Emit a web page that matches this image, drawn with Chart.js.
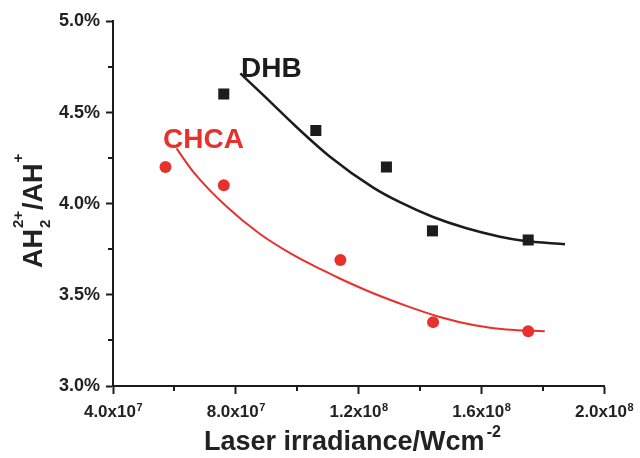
<!DOCTYPE html>
<html><head><meta charset="utf-8">
<script src="https://cdn.jsdelivr.net/npm/chart.js@4/dist/chart.umd.min.js"></script>
<style>html,body{margin:0;padding:0;background:#fff}canvas{display:block}</style>
</head><body><canvas id="c" width="640" height="458"></canvas>
<script>
// ---- data ----
const dhbX = [7.61e7, 1.061e8, 1.291e8, 1.441e8, 1.753e8];
const dhbY = [4.60, 4.40, 4.20, 3.85, 3.80];
const chcaX = [5.71e7, 7.61e7, 1.141e8, 1.443e8, 1.753e8];
const chcaY = [4.20, 4.10, 3.69, 3.35, 3.30];
const dhbFitX = [8.15e7, 8.89e7, 9.98e7, 1.106e8, 1.248e8, 1.335e8, 1.443e8, 1.552e8, 1.661e8, 1.737e8, 1.873e8];
const dhbFitY = [4.713, 4.595, 4.419, 4.258, 4.087, 4.007, 3.926, 3.864, 3.818, 3.796, 3.777];
const chcaFitX = [6.07e7, 6.61e7, 7.70e7, 8.78e7, 9.87e7, 1.085e8, 1.139e8, 1.248e8, 1.356e8, 1.465e8, 1.574e8, 1.682e8, 1.807e8];
const chcaFitY = [4.302, 4.175, 3.983, 3.834, 3.718, 3.633, 3.589, 3.508, 3.439, 3.378, 3.334, 3.309, 3.300];
const xTicks = [4e7, 8e7, 1.2e8, 1.6e8, 2e8];
const xTickMant = ['4.0x10', '8.0x10', '1.2x10', '1.6x10', '2.0x10'];
const xTickExp = ['7', '7', '8', '8', '8'];
const xMinor = [6e7, 1e8, 1.4e8, 1.8e8];
const yTicks = [3.0, 3.5, 4.0, 4.5, 5.0];
const yTickLabels = ['3.0%', '3.5%', '4.0%', '4.5%', '5.0%'];
const yMinor = [3.25, 3.75, 4.25, 4.75];
const seriesNames = ['DHB', 'CHCA'];

const BLACK = '#1c1c1c', RED = '#e8302d', TXT = '#222222';
const FF = '"Liberation Sans", Arial, Helvetica, sans-serif';
const pts = (xs, ys) => xs.map((v, i) => ({x: v, y: ys[i]}));

const deco = {
  id: 'deco',
  afterDraw(chart) {
    const {ctx, chartArea: ca} = chart;
    const x = chart.scales.x, y = chart.scales.y;
    ctx.save();
    // minor ticks
    ctx.strokeStyle = BLACK; ctx.lineWidth = 2;
    xMinor.forEach(v => { const p = Math.round(x.getPixelForValue(v)); ctx.beginPath(); ctx.moveTo(p, ca.bottom); ctx.lineTo(p, ca.bottom + 5); ctx.stroke(); });
    yMinor.forEach(v => { const p = Math.round(y.getPixelForValue(v)); ctx.beginPath(); ctx.moveTo(ca.left, p); ctx.lineTo(ca.left - 5, p); ctx.stroke(); });
    ctx.fillStyle = TXT;
    // y tick labels
    ctx.font = 'bold 18px ' + FF; ctx.textAlign = 'right'; ctx.textBaseline = 'middle';
    yTicks.forEach((v, i) => ctx.fillText(yTickLabels[i], ca.left - 13, y.getPixelForValue(v) + 0.5));
    // x tick labels with superscript exponents
    ctx.textAlign = 'left'; ctx.textBaseline = 'alphabetic';
    xTicks.forEach((v, i) => {
      const p = x.getPixelForValue(v);
      ctx.font = 'bold 17px ' + FF; const w1 = ctx.measureText(xTickMant[i]).width;
      ctx.font = 'bold 11px ' + FF; const w2 = ctx.measureText(xTickExp[i]).width;
      const left = p - (w1 + w2) / 2;
      ctx.font = 'bold 17px ' + FF; ctx.fillText(xTickMant[i], left, ca.bottom + 31);
      ctx.font = 'bold 11px ' + FF; ctx.fillText(xTickExp[i], left + w1 + 0.5, ca.bottom + 25);
    });
    // x title
    ctx.font = 'bold 27px ' + FF;
    const xt = 'Laser irradiance/Wcm';
    const xl = 204;
    ctx.fillText(xt, xl, 450);
    const xw = ctx.measureText(xt).width;
    ctx.font = 'bold 16px ' + FF; ctx.fillText('-2', xl + xw + 2, 437);
    // y title (rotated)
    ctx.save();
    ctx.translate(42, 268); ctx.rotate(-Math.PI / 2);
    let cx = 0;
    ctx.font = 'bold 27px ' + FF; ctx.fillText('AH', cx, 0); cx += ctx.measureText('AH').width + 1;
    ctx.font = 'bold 15px ' + FF;
    ctx.fillText('2', cx, 8);
    ctx.fillText('2+', cx, -19);
    cx += Math.max(ctx.measureText('2').width, ctx.measureText('2+').width) + 1;
    ctx.font = 'bold 27px ' + FF; ctx.fillText('/AH', cx, 0); cx += ctx.measureText('/AH').width + 1;
    ctx.font = 'bold 15px ' + FF; ctx.fillText('+', cx, -19);
    ctx.restore();
    // series labels
    ctx.font = 'bold 28px ' + FF;
    ctx.fillStyle = BLACK; ctx.fillText(seriesNames[0], 241, 77);
    ctx.fillStyle = RED; ctx.fillText(seriesNames[1], 163, 148);
    ctx.restore();
  }
};

new Chart(document.getElementById('c'), {
  type: 'scatter',
  data: {
    datasets: [
      {label: 'DHB', data: pts(dhbX, dhbY), pointStyle: 'rect', pointRadius: 7.8, backgroundColor: BLACK, borderColor: BLACK, borderWidth: 0, showLine: false},
      {label: 'CHCA', data: pts(chcaX, chcaY), pointStyle: 'circle', pointRadius: 6, backgroundColor: RED, borderColor: RED, borderWidth: 0, showLine: false},
      {label: 'DHB fit', data: pts(dhbFitX, dhbFitY), showLine: true, pointRadius: 0, borderColor: BLACK, borderWidth: 2.5, cubicInterpolationMode: 'monotone', fill: false},
      {label: 'CHCA fit', data: pts(chcaFitX, chcaFitY), showLine: true, pointRadius: 0, borderColor: RED, borderWidth: 2, cubicInterpolationMode: 'monotone', fill: false}
    ]
  },
  options: {
    responsive: false, animation: false, devicePixelRatio: 1,
    layout: {padding: {left: 0, top: 21, right: 36, bottom: 0}},
    plugins: {legend: {display: false}, tooltip: {enabled: false}},
    scales: {
      x: {type: 'linear', min: 4e7, max: 2e8,
          ticks: {stepSize: 4e7, display: false},
          grid: {display: true, drawOnChartArea: false, drawTicks: true, tickLength: 8, tickWidth: 2, tickColor: BLACK},
          border: {display: true, color: BLACK, width: 2},
          afterFit: s => { s.height = 72; }},
      y: {type: 'linear', min: 3.0, max: 5.0,
          ticks: {stepSize: 0.5, display: false},
          grid: {display: true, drawOnChartArea: false, drawTicks: true, tickLength: 7, tickWidth: 2, tickColor: BLACK},
          border: {display: true, color: BLACK, width: 2},
          afterFit: s => { s.width = 113; }}
    }
  },
  plugins: [deco]
});
</script>
</body></html>
